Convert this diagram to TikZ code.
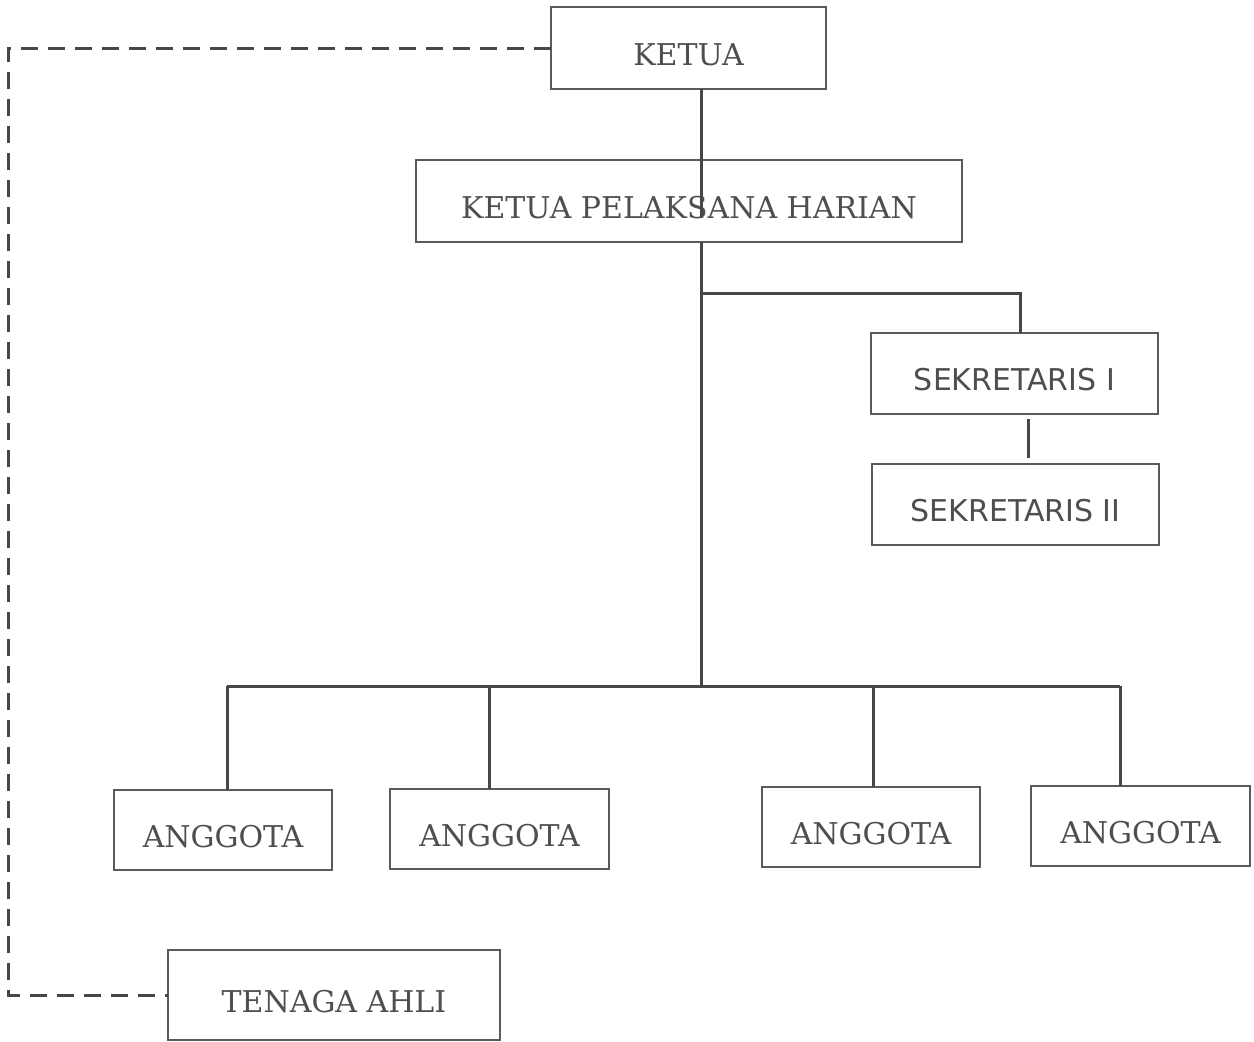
\documentclass[tikz,border=0pt]{standalone}
\usepackage{fontspec}
\setmainfont{DejaVu Serif}
\newfontfamily\sekfont{DejaVu Sans}
\definecolor{linec}{HTML}{474747}
\definecolor{boxc}{HTML}{5A5A5A}
\definecolor{txtc}{HTML}{4E4E4E}
\begin{document}
\begin{tikzpicture}[x=1pt,y=-1pt,
  box/.style={draw=boxc, line width=1.8pt, inner sep=0pt, outer sep=0pt, text=txtc,
    text height=34pt, text depth=0pt,
    font=\fontsize{30}{30}\selectfont},
  sekbox/.style={box, font=\sekfont\fontsize{30}{30}\selectfont},
  conn/.style={draw=linec, line width=3pt},
  dashconn/.style={draw=linec, line width=3pt, dash pattern=on 17pt off 10pt}]
\fill[white] (0,0) rectangle (1254,1042);
\useasboundingbox (0,0) rectangle (1254,1042);

% helper coordinates
\coordinate (tx) at (701,0);
\coordinate (kphmid) at (0,218);
\coordinate (sekbr) at (0,293);
\coordinate (sx) at (1020,0);
\coordinate (dl) at (8,0);
\coordinate (d1) at (227,686);
\coordinate (d2) at (489,686);
\coordinate (d3) at (873,686);
\coordinate (d4) at (1120,686);

% nodes
\node[box, minimum width=275pt, minimum height=82pt] (ketua) at (688.5,48) {KETUA};
\node[box, minimum width=546pt, minimum height=82pt] (kph) at (689,201) {KETUA PELAKSANA HARIAN};
\node[sekbox, minimum width=287pt, minimum height=81pt] (sek1) at (1014.5,373.5) {SEKRETARIS I};
\node[sekbox, minimum width=287pt, minimum height=81pt] (sek2) at (1015.5,504.5) {SEKRETARIS II};
\node[box, minimum width=218pt, minimum height=80pt] (a1) at (223,830) {ANGGOTA};
\node[box, minimum width=219pt, minimum height=80pt] (a2) at (499.5,829) {ANGGOTA};
\node[box, minimum width=218pt, minimum height=80pt] (a3) at (871,827) {ANGGOTA};
\node[box, minimum width=219pt, minimum height=80pt] (a4) at (1140.5,826) {ANGGOTA};
\node[box, minimum width=332pt, minimum height=90pt] (ta) at (334,995) {TENAGA AHLI};

% trunk
\draw[conn] (ketua.south -| tx) -- (kphmid -| tx);
\draw[conn] (kph.south -| tx) -- (d1 -| tx);
% sekretaris branch
\draw[conn] (sekbr -| tx) -- (sekbr -| sx) -- (sek1.north -| sx);
\draw[conn] ([xshift=13.5pt,yshift=-5pt]sek1.south) -- ([xshift=12.5pt,yshift=6pt]sek2.north);
% anggota bus
\draw[conn] (d1) -- (d4);
\draw[conn] (d1) -- (a1.north -| d1);
\draw[conn] (d2) -- (a2.north -| d2);
\draw[conn] (d3) -- (a3.north -| d3);
\draw[conn] (d4) -- (a4.north -| d4);
% dashed link ketua - tenaga ahli
\draw[dashconn] (ketua.west) -- (ketua.west -| dl) -- (ta.west -| dl) -- (ta.west);
\end{tikzpicture}
\end{document}
